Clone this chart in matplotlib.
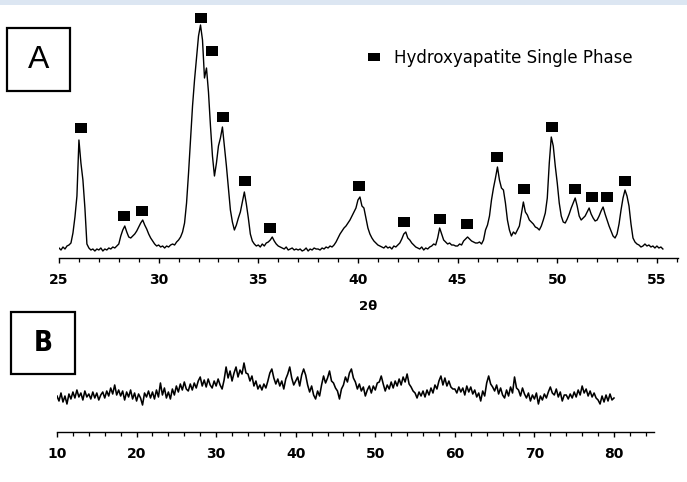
import numpy as np
import matplotlib
matplotlib.use('Agg')
import matplotlib.pyplot as plt
from matplotlib.path import Path
from matplotlib.lines import Line2D
from matplotlib.patches import Rectangle
from matplotlib.ticker import MultipleLocator

# ---------------- data: panel A (crystalline HAp), 2theta 25.0 .. 55.3 step 0.1
two_theta_a = np.linspace(25.0, 55.3, 304)
intensity_a = [
    10, 8, 11, 9, 12, 13, 15, 25, 41, 62,          # 25
    118, 95, 78, 50, 14, 10, 8, 9, 7, 9,           # 26
    8, 10, 7, 9, 8, 10, 9, 11, 10, 12,             # 27
    14, 22, 28, 32, 26, 21, 20, 22, 24, 27,        # 28
    31, 35, 38, 33, 29, 24, 20, 17, 14, 12,        # 29
    13, 11, 12, 10, 12, 11, 13, 14, 13, 16,        # 30
    18, 21, 26, 35, 55, 85, 118, 152, 178, 200,    # 31
    222, 233, 218, 180, 190, 166, 132, 102, 82, 95,  # 32
    112, 120, 131, 112, 92, 70, 48, 36, 28, 33,    # 33
    40, 46, 56, 66, 54, 40, 24, 17, 14, 12,        # 34
    13, 11, 14, 12, 15, 16, 18, 21, 17, 14,        # 35
    12, 11, 10, 9, 11, 8, 9, 10, 8, 9,             # 36
    8, 9, 7, 8, 10, 7, 9, 8, 10, 9,                # 37
    9, 8, 10, 9, 11, 10, 12, 11, 13, 16,           # 38
    20, 24, 27, 30, 32, 35, 38, 42, 46, 50,        # 39
    58, 61, 52, 50, 40, 30, 24, 20, 17, 15,        # 40
    13, 12, 11, 10, 12, 10, 11, 9, 12, 11,         # 41
    13, 15, 19, 24, 26, 20, 18, 15, 13, 11,        # 42
    10, 9, 11, 8, 10, 9, 11, 12, 14, 13,           # 43
    20, 30, 24, 18, 16, 14, 15, 13, 13, 12,        # 44
    12, 14, 13, 17, 19, 21, 19, 17, 16, 15,        # 45
    15, 16, 14, 18, 28, 33, 42, 58, 70, 80,        # 46
    91, 78, 70, 68, 55, 38, 28, 22, 26, 24,        # 47
    28, 32, 44, 56, 46, 43, 38, 36, 34, 31,        # 48
    30, 28, 32, 38, 45, 60, 95, 121, 112, 92,      # 49
    75, 55, 42, 36, 35, 39, 44, 50, 55, 60,        # 50
    52, 42, 38, 40, 42, 46, 50, 44, 40, 37,        # 51
    38, 42, 47, 51, 44, 38, 32, 27, 22, 20,        # 52
    24, 34, 48, 60, 68, 62, 52, 34, 20, 16,        # 53
    14, 13, 11, 12, 14, 12, 13, 11, 12, 10,        # 54
    12, 10, 11, 9,                                 # 55
]

# reflections marked as hydroxyapatite
hap_peak_2theta = [26.10, 28.26, 29.16, 32.12, 32.68, 33.23, 34.33, 35.59,
                   40.05, 42.31, 44.12, 45.47, 46.98, 48.33, 49.74, 50.89,
                   51.74, 52.50, 53.40]
hap_marker_level = [130, 42, 47, 240, 207, 141, 77, 30,
                    72, 36, 39, 34, 101, 69, 131, 69,
                    61, 61, 77]

# ---------------- data: panel B (amorphous), 2theta 10 .. 80 step 0.25
two_theta_b = np.linspace(10.0, 80.0, 281)
intensity_b = [
    36, 31, 39, 30, 36, 28, 38, 33,   # 10
    40, 34, 42, 35, 39, 32, 41, 35,   # 12
    38, 33, 40, 34, 39, 32, 37, 40,   # 14
    34, 41, 36, 44, 38, 47, 37, 42,   # 16
    36, 41, 32, 40, 35, 42, 33, 39,   # 18
    31, 38, 34, 27, 39, 35, 41, 34,   # 20
    40, 33, 42, 35, 49, 37, 44, 34,   # 22
    40, 33, 43, 37, 46, 40, 48, 42,   # 24
    50, 43, 41, 48, 42, 49, 44, 51,   # 26
    55, 46, 52, 45, 53, 47, 44, 51,   # 28
    46, 53, 47, 43, 52, 65, 54, 61,   # 30
    51, 59, 65, 55, 62, 58, 69, 59,   # 32
    58, 51, 56, 46, 51, 43, 47, 42,   # 34
    48, 44, 51, 59, 63, 54, 48, 53,   # 36
    46, 51, 43, 53, 58, 65, 54, 47,   # 38
    51, 55, 46, 57, 63, 57, 47, 40,   # 40
    46, 37, 33, 41, 36, 47, 56, 49,   # 42
    54, 61, 51, 49, 44, 41, 33, 43,   # 44
    47, 55, 50, 59, 63, 54, 50, 43,   # 46
    48, 41, 45, 36, 42, 46, 39, 46,   # 48
    42, 49, 50, 56, 48, 41, 47, 43,   # 50
    50, 44, 51, 46, 53, 47, 55, 50,   # 52
    58, 48, 45, 41, 39, 34, 40, 36,   # 54
    41, 35, 42, 37, 44, 39, 47, 43,   # 56
    51, 56, 47, 54, 46, 51, 45, 43,   # 58
    43, 39, 45, 40, 44, 37, 46, 40,   # 60
    45, 38, 42, 35, 39, 31, 41, 36,   # 62
    49, 56, 48, 45, 41, 47, 38, 44,   # 64
    37, 34, 42, 36, 45, 39, 55, 44,   # 66
    42, 36, 44, 38, 34, 39, 31, 37,   # 68
    33, 39, 28, 36, 32, 38, 34, 40,   # 70
    45, 39, 37, 43, 35, 40, 31, 37,   # 72
    37, 33, 38, 34, 40, 35, 42, 37,   # 74
    46, 39, 43, 36, 41, 35, 39, 34,   # 76
    32, 28, 36, 30, 37, 31, 38, 32,   # 78
    34,                               # 80
]

legend_label = "Hydroxyapatite Single Phase"
axis_label = "2θ"
ticks_a = [25, 30, 35, 40, 45, 50, 55]
ticks_b = [10, 20, 30, 40, 50, 60, 70, 80]

# ---------------- figure
W, H = 687, 482
fig = plt.figure(figsize=(W / 100, H / 100), dpi=100)
fig.patch.set_facecolor('white')
FONT = 'DejaVu Sans'

def fx(px):
    return px / W

def fy(py):
    return 1 - py / H

# light blue strip at the top
fig.patches.append(Rectangle((0, fy(5)), 1, 5 / H, transform=fig.transFigure,
                             facecolor='#dce6f2', edgecolor='none', zorder=0))

rect_marker = Path([(-0.5, -0.37), (0.5, -0.37), (0.5, 0.37), (-0.5, 0.37), (-0.5, -0.37)],
                   [Path.MOVETO, Path.LINETO, Path.LINETO, Path.LINETO, Path.CLOSEPOLY])

def style_axis(ax, major, minor, xmin, xmax):
    for s in ('top', 'left', 'right'):
        ax.spines[s].set_visible(False)
    ax.spines['bottom'].set_linewidth(1.0)
    ax.spines['bottom'].set_bounds(xmin, xmax)
    ax.set_yticks([])
    ax.set_facecolor('none')
    ax.xaxis.set_major_locator(MultipleLocator(major))
    ax.xaxis.set_minor_locator(MultipleLocator(minor))
    ax.tick_params(axis='x', which='major', direction='out', length=3.5, width=1.0,
                   pad=7, labelsize=10)
    ax.tick_params(axis='x', which='minor', direction='out', length=3.0, width=0.9)
    for lab in ax.get_xticklabels():
        lab.set_fontfamily(FONT)
        lab.set_fontweight('bold')

# ---- panel A
axA = fig.add_axes([fx(59), fy(258), fx(678) - fx(59), fy(10) - fy(258)])
axA.plot(two_theta_a, intensity_a, color='black', lw=1.0)
axA.plot(hap_peak_2theta, hap_marker_level, ls='none', marker=rect_marker,
         markersize=9, color='black', markeredgewidth=0)
axA.set_xlim(25, 25 + (678 - 59) / 19.93)
axA.set_ylim(0, 248)
axA.set_xticks(ticks_a)
style_axis(axA, 5, 1, 25, 25 + (678 - 59) / 19.93)

handle = Line2D([], [], ls='none', marker=rect_marker, markersize=8, color='black',
                markeredgewidth=0)
leg = axA.legend([handle], [legend_label], loc='center left',
                 bbox_to_anchor=(fx(358), fy(58)), bbox_transform=fig.transFigure,
                 frameon=False, borderpad=0, handlelength=0.9, handletextpad=0.75,
                 prop={'family': FONT, 'size': 12})

fig.text(fx(368), fy(307), axis_label, ha='center', va='center', fontsize=9.5,
         fontweight='bold', family=FONT)

# ---- panel B
axB = fig.add_axes([fx(57), fy(432), fx(654) - fx(57), fy(330) - fy(432)])
axB.plot(two_theta_b, intensity_b, color='black', lw=1.15)
xmaxB = 10 + (654 - 57) / 7.957
axB.set_xlim(10, xmaxB)
axB.set_ylim(0, 102)
axB.set_xticks(ticks_b)
style_axis(axB, 10, 2, 10, xmaxB)

# ---- panel letters in boxes
for (x0, y0, x1, y1, letter, kw) in [
        (7, 28, 70, 91, 'A', dict(fontsize=23, fontweight='normal', family='Liberation Sans')),
        (11, 312, 75, 374, 'B', dict(fontsize=20, fontweight='bold', family='DejaVu Sans',
                                     fontstretch='condensed'))]:
    fig.patches.append(Rectangle((fx(x0), fy(y1)), (x1 - x0) / W, (y1 - y0) / H,
                                 transform=fig.transFigure, facecolor='white',
                                 edgecolor='black', linewidth=1.6))
    fig.text(fx((x0 + x1) / 2), fy((y0 + y1) / 2), letter, ha='center', va='center', **kw)

fig.savefig('out.png', dpi=100)
